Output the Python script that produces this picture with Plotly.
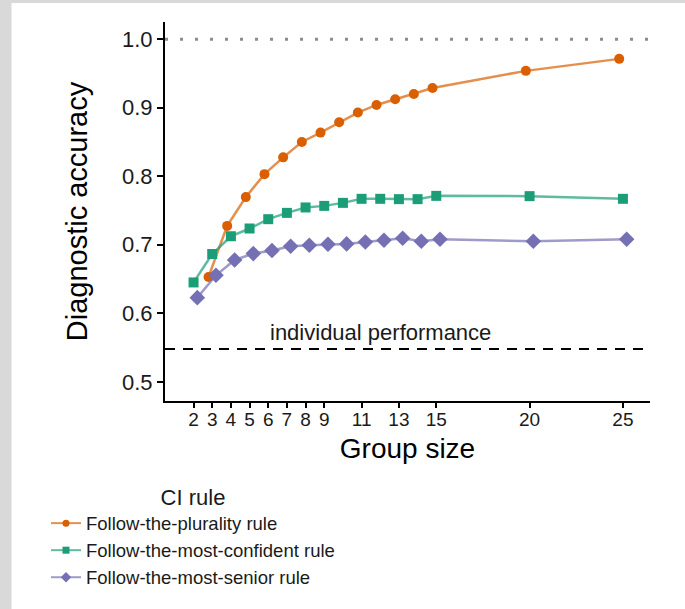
import plotly.graph_objects as go

# ---- data ----
group_plurality = [3, 4, 5, 6, 7, 8, 9, 10, 11, 12, 13, 14, 15, 20, 25]
acc_plurality = [0.653, 0.7275, 0.7695, 0.803, 0.8275, 0.850, 0.8636, 0.8788,
                 0.8929, 0.904, 0.9123, 0.920, 0.9288, 0.9537, 0.9712]

group_confident = [2, 3, 4, 5, 6, 7, 8, 9, 10, 11, 12, 13, 14, 15, 20, 25]
acc_confident = [0.645, 0.6865, 0.7124, 0.7237, 0.7373, 0.7465, 0.7544, 0.7567,
                 0.7611, 0.767, 0.767, 0.7665, 0.7665, 0.7713, 0.7709, 0.767]

group_senior = [2, 3, 4, 5, 6, 7, 8, 9, 10, 11, 12, 13, 14, 15, 20, 25]
acc_senior = [0.6228, 0.6554, 0.6778, 0.6871, 0.6915, 0.6978, 0.6993, 0.7007,
              0.7012, 0.7041, 0.7066, 0.7095, 0.7051, 0.708, 0.7051, 0.708]

x_tick_vals = [2, 3, 4, 5, 6, 7, 8, 9, 11, 13, 15, 20, 25]
y_tick_vals = [0.5, 0.6, 0.7, 0.8, 0.9, 1.0]
individual_performance = 0.548
ceiling = 1.0

series_names = ["Follow-the-plurality rule", "Follow-the-most-confident rule",
                "Follow-the-most-senior rule"]

# ---- styling ----
FONT = "Liberation Sans, Arial, sans-serif"
W, H = 685, 609
ML, MR, MT, MB = 165, 35, 22, 208
PW, PH = W - ML - MR, H - MT - MB
DODGE = 0.2


def px_x(p):
    return (p - ML) / PW


def px_y(p):
    return (H - MB - p) / PH


series = [
    (group_plurality, acc_plurality, -DODGE, "#D95F02", "rgba(217,95,2,0.7)", "circle", 10),
    (group_confident, acc_confident, 0.0, "#1B9E77", "rgba(27,158,119,0.7)", "square", 10),
    (group_senior, acc_senior, DODGE, "#7570B3", "rgba(117,112,179,0.7)", "diamond", 12),
]

fig = go.Figure()
for i, (name, (gx, gy, off, mc, lc, sym, ms)) in enumerate(zip(series_names, series)):
    fig.add_trace(go.Scatter(
        x=[g + off for g in gx], y=gy, mode="lines+markers", name=name,
        legendgroup=f"g{i}", showlegend=False,
        line=dict(color=lc, width=2.5),
        marker=dict(color=mc, symbol=sym, size=ms, line=dict(width=0)),
    ))
    # legend key (small glyph like the reference)
    fig.add_trace(go.Scatter(
        x=[None], y=[None], mode="lines+markers", name=name,
        legendgroup=f"g{i}", showlegend=True,
        line=dict(color=lc, width=2),
        marker=dict(color=mc, symbol=sym, size=7 if sym != "diamond" else 8, line=dict(width=0)),
    ))

# reference lines
fig.add_shape(type="line", xref="paper", x0=0, x1=1, yref="y",
              y0=ceiling, y1=ceiling,
              line=dict(color="#8c8c8c", width=3, dash="3px,12px"))
fig.add_shape(type="line", xref="paper", x0=0, x1=1, yref="y",
              y0=individual_performance, y1=individual_performance,
              line=dict(color="black", width=2, dash="10px,8px"))
fig.add_annotation(x=12, y=0.5725, xref="x", yref="y", text="individual performance",
                   showarrow=False, font=dict(family=FONT, size=22, color="#1a1a1a"))

# screenshot frame strips
fig.add_shape(type="rect", xref="paper", yref="paper", layer="below",
              x0=px_x(-2), x1=px_x(11.5), y0=px_y(H + 2), y1=px_y(-2),
              fillcolor="#d9d9d9", line=dict(width=0))
fig.add_shape(type="rect", xref="paper", yref="paper", layer="below",
              x0=px_x(-2), x1=px_x(W + 2), y0=px_y(3), y1=px_y(-2),
              fillcolor="#d9d9d9", line=dict(width=0))

fig.update_layout(
    width=W, height=H,
    margin=dict(l=ML, r=MR, t=MT, b=MB, autoexpand=False),
    paper_bgcolor="white", plot_bgcolor="white",
    font=dict(family=FONT, color="#1a1a1a"),
    showlegend=True,
    legend=dict(
        title=dict(text="CI rule", side="top center", font=dict(size=22, family=FONT)),
        font=dict(size=18.5, family=FONT, color="#1a1a1a"),
        x=px_x(46), xanchor="left", y=px_y(476), yanchor="top",
        bgcolor="rgba(0,0,0,0)", tracegroupgap=0, itemsizing="trace",
    ),
    xaxis=dict(
        range=[0.47, 26.45], tickmode="array", tickvals=x_tick_vals,
        ticktext=[str(v) for v in x_tick_vals],
        showline=True, linecolor="black", linewidth=2, mirror=False,
        ticks="outside", ticklen=5, tickwidth=1.5, tickcolor="black",
        tickfont=dict(size=19, family=FONT, color="#1a1a1a"),
        ticklabelstandoff=-5,
        showgrid=False, zeroline=False, automargin=False,
        title=dict(text="Group size", font=dict(size=28, family=FONT, color="black"), standoff=10),
    ),
    yaxis=dict(
        range=[0.472, 1.025], tickmode="array", tickvals=y_tick_vals,
        ticktext=[f"{v:.1f}" for v in y_tick_vals],
        showline=True, linecolor="black", linewidth=2, mirror=False,
        ticks="outside", ticklen=6, tickwidth=1.5, tickcolor="black",
        tickfont=dict(size=22, family=FONT, color="#1a1a1a"),
        showgrid=False, zeroline=False, automargin=False,
        title=dict(text="Diagnostic accuracy", font=dict(size=29, family=FONT, color="black"), standoff=26),
    ),
)

fig.write_html(
    "out.html",
    config={"displayModeBar": False},
    post_script="document.body.style.margin='0';document.body.style.overflow='hidden';",
)
